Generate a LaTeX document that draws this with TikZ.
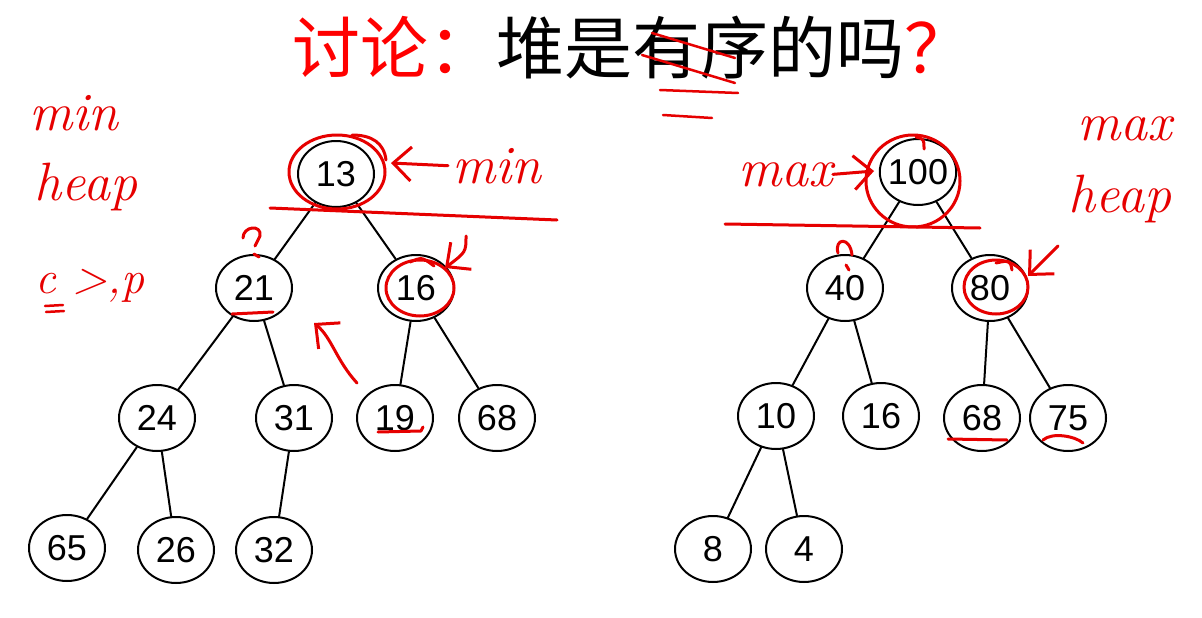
\documentclass[tikz,border=0pt]{standalone}
\usepackage{fontspec}
\newfontfamily\cjk{Noto Sans CJK SC}
\newfontfamily\numfont{Liberation Sans}
\usetikzlibrary{arrows.meta,shapes.geometric}
\definecolor{pen}{RGB}{230,0,0}
\definecolor{titlered}{RGB}{255,0,0}

\begin{document}
\begin{tikzpicture}[x=1pt, y=-1pt,
                    line cap=round, line join=round,
                    key/.style={ellipse, draw=black, line width=2pt, minimum width=76pt,
                                minimum height=66pt, inner sep=0pt, inner xsep=-3pt,
                                font=\numfont\fontsize{36}{40}\selectfont},
                    edge/.style={black, line width=2pt},
                    ink/.style={pen, line width=3pt},
                    hand/.style={text=pen, inner sep=0pt, font=\itshape\fontsize{54}{60}\selectfont},
                    barb/.style={-{Straight Barb[length=18pt,width=34pt]}}]
  \path[use as bounding box, fill=white] (0,0) rectangle (1202,618);

  % title
  \node[anchor=west, inner sep=0pt, font=\cjk\fontsize{68}{72}\selectfont] (title) at (292,48)
    {\textcolor{titlered}{讨论：}堆是有序的吗\textcolor{titlered}{？}};

  % left tree (min heap)
  \node[key] (a13) at (336,174) {13};
  \node[key] (a21) at (254,288) {21};
  \node[key] (a16) at (416,288) {16};
  \node[key] (a24) at (157,418) {24};
  \node[key] (a31) at (294,418) {31};
  \node[key] (a19) at (395,418) {19};
  \node[key] (a68) at (497,418) {68};
  \node[key] (a65) at (67,548)  {65};
  \node[key] (a26) at (176,550) {26};
  \node[key] (a32) at (274,550) {32};
  \foreach \p/\c in {a13/a21, a13/a16, a21/a24, a21/a31, a16/a19, a16/a68, a24/a65, a24/a26, a31/a32}
    \draw[edge] (\p) -- (\c);

  % right tree (max heap)
  \node[key] (b100) at (918,172) {100};
  \node[key] (b40)  at (845,288) {40};
  \node[key] (b80)  at (990,288) {80};
  \node[key] (b10)  at (776,416) {10};
  \node[key] (b16)  at (881,416) {16};
  \node[key] (b68)  at (982,418) {68};
  \node[key] (b75)  at (1068,418) {75};
  \node[key] (b8)   at (713,549) {8};
  \node[key] (b4)   at (804,549) {4};
  \foreach \p/\c in {b100/b40, b100/b80, b40/b10, b40/b16, b80/b68, b80/b75, b10/b8, b10/b4}
    \draw[edge] (\p) -- (\c);

  % marks on the title
  \draw[ink, line width=2.5pt] (652,33) -- (735,58);
  \draw[ink, line width=2.5pt] (642,55) -- (735,83);
  \draw[ink, line width=2.5pt] (660,90) -- (738,93);
  \draw[ink, line width=2.5pt] (663,115) -- (712,118);

  % notes, left
  \node[hand, anchor=base] (minL) at (74,130) {min};
  \node[hand, anchor=base] (heapL) at (86,200) {heap};
  \node[hand, anchor=base, font=\itshape\fontsize{46}{50}\selectfont] (cp) at (90,293) {c >,p};
  \draw[ink, line width=2.5pt] (45,306) -- (63,305) (46,312) -- (64,311);

  \draw[ink] (a13) ++(1,-2) ellipse [x radius=48pt, y radius=37pt];
  \draw[ink] (352,135) .. controls (372,135) and (384,143) .. (386,160);
  \node[hand, anchor=base west] (minR) at (452,183) {min};
  \coordinate (tip13) at (391,163);
  \draw[ink, barb] ([xshift=-4pt]minR.west) -- (tip13);
  \draw[ink] (270,208) -- (557,220);

  \draw[ink] (243,238) .. controls (243,226) and (262,224) .. (260,236) -- (255,246);
  \draw[ink] (254,254) -- (259,257);
  \draw[ink] (232,314) -- (273,312);
  \draw[ink] (a16) ++(4,0) ellipse [x radius=34pt, y radius=28pt];
  \draw[ink] (410,262) .. controls (422,257) .. (434,266);
  \coordinate (from16) at (466,236);
  \coordinate (tip16) at (445,268);
  \draw[ink, barb] (from16) .. controls (466,252) .. (tip16);
  \coordinate (from19) at (357,383);
  \coordinate (tip21) at (314,323);
  \draw[ink, barb] (from19) .. controls (336,360) and (332,338) .. (tip21);
  \draw[ink] (378,432) -- (421,431) -- (423,427);

  % notes, right
  \node[hand, anchor=base west] (maxL) at (738,186) {max};
  \coordinate (tip100) at (874,171);
  \draw[ink, barb] (maxL.east) -- (tip100);
  \draw[ink] (b100) ++(-5,9) ellipse [x radius=47pt, y radius=46pt];
  \draw[ink] (916,137) .. controls (924,139) .. (924,149);
  \draw[ink] (725,224) -- (980,228);
  \node[hand, anchor=base] (maxR) at (1125,140) {max};
  \node[hand, anchor=base] (heapR) at (1120,212) {heap};

  \draw[ink] (838,253) .. controls (834,238) and (850,236) .. (852,255);
  \draw[ink] (846,265) -- (849,270);
  \draw[ink] (b80) ++(6,-1) ellipse [x radius=32pt, y radius=27pt];
  \draw[ink] (996,263) .. controls (1010,260) .. (1012,270);
  \coordinate (from80) at (1058,246);
  \coordinate (tip80) at (1028,276);
  \draw[ink, barb] (from80) -- (tip80);
  \draw[ink] (948,439) -- (1007,440);
  \draw[ink] (1043,440) .. controls (1052,432) and (1075,436) .. (1083,443);
\end{tikzpicture}
\end{document}
